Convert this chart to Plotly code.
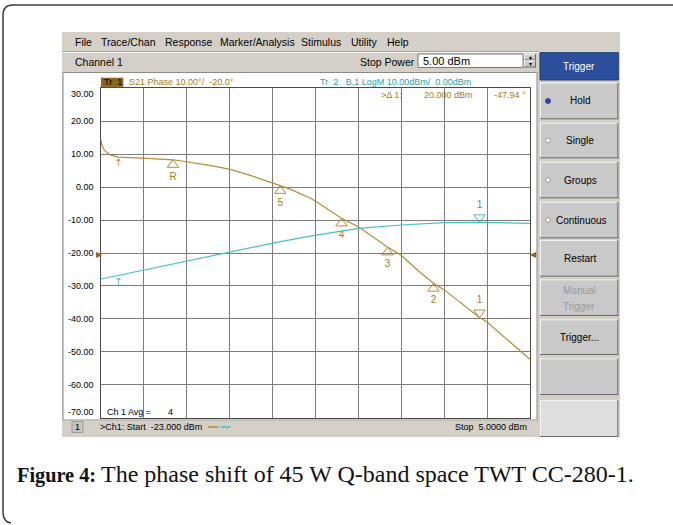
import plotly.graph_objects as go

W, H = 673, 525

# ---------------- data ----------------
power_start_dbm = -23.0
power_stop_dbm = 5.0
y_tick_values = [30, 20, 10, 0, -10, -20, -30, -40, -50, -60, -70]

# Tr 1 : S21 phase (deg) vs input power (dBm)
phase_power_dbm = [-23.0, -22.95, -22.85, -22.74, -22.41, -21.87, -20.26, -18.3, -17.4,
                   -16.0, -14.56, -13.2, -11.79, -11.32, -10.66, -9.36, -8.99, -7.29, -6.2,
                   -4.31, -3.42, -2.39, -1.31, -0.59, 1.7, 2.17, 5.0]
phase_deg = [14.3, 13.0, 11.8, 11.0, 9.8, 9.1, 8.8, 8.3, 7.7,
             6.7, 5.4, 3.5, 1.2, 0.4, -0.6, -3.3, -4.3, -9.5, -12.0,
             -18.2, -20.6, -25.0, -29.2, -31.2, -39.6, -40.9, -52.3]

# Tr 2 : B,1 LogM output power (dBm) vs input power (dBm)
b1_power_dbm = [-23.0, -20.24, -17.4, -15.23, -11.79, -9.36, -6.2, -3.42, -0.59, 1.74, 5.0]
b1_dbm = [-7.9, -5.2, -2.4, -0.3, 3.0, 5.1, 7.5, 8.5, 9.2, 9.3, 9.0]

# markers on the phase trace
marker_labels = ["R", "5", "4", "3", "2"]
marker_power_dbm = [-18.3, -11.3, -7.3, -4.3, -1.3]
marker_phase_deg = [8.3, 0.4, -9.5, -18.3, -29.3]
active_marker_label = "1"
active_marker_power_dbm = 1.7
active_marker_phase_deg = -39.6
b1_marker_dbm = 9.3

# stimulus arrows
stim_arrow_power = -21.9
stim_arrow_phase = 9.0
stim_arrow_b1 = -6.9

# ---------------- styling ----------------
BROWN = "#b98a35"
BROWN_T = "#a87a20"
CYAN = "#45c0c0"
CYAN_T = "#1ea5a5"
GRAY = "#d4d0c8"
BTN = "#c9c9c9"
SANS = "Liberation Sans, Arial, sans-serif"
SERIF = "Liberation Serif, Times New Roman, serif"

def px(x):
    return x / W

def py(y):
    return 1 - y / H

PLOT_L, PLOT_R, PLOT_T, PLOT_B = 101, 530, 88.3, 417.7
OFF = 5 * 100 / (PLOT_B - PLOT_T)  # 5 px in data units

shapes = []
ann = []

def rect(x0, y0, x1, y1, fill, line=None, lw=0, layer="below"):
    shapes.append(dict(type="rect", xref="paper", yref="paper",
                       x0=px(x0), x1=px(x1), y0=py(y1), y1=py(y0),
                       fillcolor=fill, line=dict(color=line or fill, width=lw),
                       layer=layer))

def hline(x0, x1, y, color, w=1, layer="below"):
    shapes.append(dict(type="line", xref="paper", yref="paper",
                       x0=px(x0), x1=px(x1), y0=py(y), y1=py(y),
                       line=dict(color=color, width=w), layer=layer))

def vline(x, y0, y1, color, w=1, layer="below"):
    shapes.append(dict(type="line", xref="paper", yref="paper",
                       x0=px(x), x1=px(x), y0=py(y0), y1=py(y1),
                       line=dict(color=color, width=w), layer=layer))

def text(x, y, s, size=10.5, color="#000", anchor="left", family=SANS, yanchor="middle"):
    ann.append(dict(xref="paper", yref="paper", x=px(x), y=py(y), text=s,
                    showarrow=False, xanchor=anchor, yanchor=yanchor,
                    font=dict(family=family, size=size, color=color)))

def button(x0, y0, x1, y1, fill=BTN):
    rect(x0, y0, x1, y1, fill)
    hline(x0, x1, y0 + 0.5, "#f4f4f4")
    vline(x0 + 0.5, y0, y1, "#f4f4f4")
    hline(x0, x1, y1 - 0.5, "#6a6a6a")
    vline(x1 - 0.5, y0, y1, "#6a6a6a")

# outer rounded frame (open at right/bottom)
path = (f"M {px(673)},{py(5)} L {px(13)},{py(5)} Q {px(3)},{py(5)} {px(3)},{py(15)} "
        f"L {px(3)},{py(512)} Q {px(3)},{py(522)} {px(11)},{py(523)}")
shapes.append(dict(type="path", xref="paper", yref="paper", path=path,
                   line=dict(color="#3a3a3a", width=1.5), layer="below"))

# screenshot background
rect(62, 32, 620, 437, GRAY)
hline(62, 620, 51.5, "#a8a6a0")
hline(62, 620, 52.5, "#f6f6f6")
# channel row / stop power box
rect(418, 54, 523, 67.5, "#ffffff", "#7a7a7a", 1)
button(524, 54, 536, 60.5)
button(524, 60.5, 536, 67.5)
text(530, 57.3, "▴", size=6, anchor="center")
text(530, 64.2, "▾", size=6, anchor="center")

# white display panel
rect(63, 72.5, 537, 420, "#ffffff", "#8a8a8a", 1)
# status bar
rect(63, 420.5, 537, 436, GRAY)
rect(72, 421.5, 83, 432.5, "#c4c4c4", "#9a9a9a", 1)
# right soft-key panel
rect(538, 50, 620, 437, GRAY)
rect(540, 52.7, 618.3, 80, "#2c4f9b", "#1c3a7a", 1)
btns = [(82.7, 119.3), (122.7, 158.3), (161.7, 198.3), (201.7, 238.3),
        (240, 276.7), (279.3, 316), (319.3, 355), (358.3, 395)]
for (a, b) in btns:
    button(540, a, 618.3, b)
button(540, 400, 618.3, 437, fill="#dedede")

# radio dots
for i, (a, b) in enumerate(btns[:4]):
    c = (a + b) / 2
    shapes.append(dict(type="circle", xref="paper", yref="paper",
                       x0=px(545.5), x1=px(550.5), y0=py(c + 2.5), y1=py(c - 2.5),
                       fillcolor="#2a4aa0" if i == 0 else "#f2f2f2",
                       line=dict(color="#2a4aa0" if i == 0 else "#9a9a9a", width=1),
                       layer="above"))

# Tr 1 label box
rect(101, 77.7, 123.3, 86.9, "#8c6414")

# ---------------- texts ----------------
menu = [("File", 73.3), ("Trace/Chan", 99.3), ("Response", 163.3), ("Marker/Analysis", 217.7),
        ("Stimulus", 299.3), ("Utility", 349.3), ("Help", 385)]
for s, x in menu:
    text(x, 42.3, s)
text(73.3, 61.7, "Channel 1")
text(357.7, 61.7, "Stop Power")
text(421, 61.2, "5.00 dBm", size=11)

text(102, 82.4, "Tr  1", size=9)
text(126.7, 82.4, "S21 Phase 10.00°/  -20.0°", size=9, color=BROWN_T)
text(317.7, 82.4, "Tr  2   B,1 LogM 10.00dBm/  0.00dBm", size=9, color=CYAN_T)
text(379.3, 95, "&gt;Δ 1:", size=9, color=BROWN_T)
text(421.7, 95, "20.000 dBm", size=9, color=BROWN_T)
text(528.3, 95, "-47.94 °", size=9, color=BROWN_T, anchor="right")

text(105, 411.5, "Ch 1 Avg =", size=9)
text(166, 411.5, "4", size=9)
text(77.5, 427, "1", size=9, anchor="center")
text(98, 427, "&gt;Ch1: Start  -23.000 dBm", size=9)
hline(208, 218.5, 427, BROWN, 1.5, layer="above")
hline(220.5, 230.5, 427, CYAN, 1.5, layer="above")
text(529, 427, "Stop  5.0000 dBm", size=9, anchor="right")

# soft keys
text(579, 66.5, "Trigger", size=10, color="#ffffff", anchor="center")
for s, (a, b) in zip(["Hold", "Single", "Groups", "Continuous", "Restart"], btns[:5]):
    text(580 if s != "Continuous" else 581, (a + b) / 2, s, size=10, anchor="center")
text(579, 290, "Manual", size=10, color="#9a9a9a", anchor="center")
text(579, 306, "Trigger", size=10, color="#9a9a9a", anchor="center")
text(579, 337.5, "Trigger...", size=10, anchor="center")

# caption
text(15, 475, "<b>Figure 4:</b>", size=20.3, color="#111111", family=SERIF)
text(99, 474, "The phase shift of 45 W Q-band space TWT CC-280-1.",
     size=24, color="#111111", family=SERIF)

# y tick labels (through the y axis scale)
for v in y_tick_values:
    shift = -6 if v == y_tick_values[0] else (6 if v == y_tick_values[-1] else 0)
    ann.append(dict(xref="paper", yref="y", x=px(95.5), y=v, yshift=shift,
                    text=f"{v:.2f}", showarrow=False, xanchor="right", yanchor="middle",
                    font=dict(family=SANS, size=9, color="#000")))

# reference position arrows
ann.append(dict(xref="paper", yref="y", x=px(99), y=-20, text="▶", showarrow=False,
                font=dict(size=8, color="#8c6414"), xanchor="center"))
ann.append(dict(xref="paper", yref="y", x=px(533), y=-20, text="◀", showarrow=False,
                font=dict(size=8, color="#8c6414"), xanchor="center"))

# stimulus arrows
ann.append(dict(xref="x", yref="y", x=stim_arrow_power, y=stim_arrow_phase, text="↑",
                showarrow=False, yanchor="top", yshift=2, font=dict(family="DejaVu Sans", size=10, color=BROWN)))
ann.append(dict(xref="x", yref="y2", x=stim_arrow_power, y=stim_arrow_b1, text="↑",
                showarrow=False, yanchor="top", yshift=2, font=dict(family="DejaVu Sans", size=10, color=CYAN)))

fig = go.Figure()
fig.add_trace(go.Scatter(x=b1_power_dbm, y=b1_dbm, mode="lines", yaxis="y2",
                         line=dict(color=CYAN, width=1.2), hoverinfo="skip"))
fig.add_trace(go.Scatter(x=phase_power_dbm, y=phase_deg, mode="lines",
                         line=dict(color=BROWN, width=1.2), hoverinfo="skip"))
fig.add_trace(go.Scatter(x=marker_power_dbm, y=[v - OFF for v in marker_phase_deg],
                         mode="markers+text", text=marker_labels, textposition="bottom center",
                         textfont=dict(family=SANS, size=10, color=BROWN_T),
                         marker=dict(symbol="triangle-up-open", size=10, color=BROWN,
                                     line=dict(width=1, color=BROWN)),
                         hoverinfo="skip"))
fig.add_trace(go.Scatter(x=[active_marker_power_dbm], y=[active_marker_phase_deg + OFF],
                         mode="markers+text", text=[active_marker_label], textposition="top center",
                         textfont=dict(family=SANS, size=10, color=BROWN_T),
                         marker=dict(symbol="triangle-down-open", size=10, color=BROWN,
                                     line=dict(width=1, color=BROWN)),
                         hoverinfo="skip"))
fig.add_trace(go.Scatter(x=[active_marker_power_dbm], y=[b1_marker_dbm + OFF], yaxis="y2",
                         mode="markers+text", text=[active_marker_label], textposition="top center",
                         textfont=dict(family=SANS, size=10, color=CYAN_T),
                         marker=dict(symbol="triangle-down-open", size=10, color=CYAN,
                                     line=dict(width=1, color=CYAN)),
                         hoverinfo="skip"))

dom_x = [px(PLOT_L), px(PLOT_R)]
dom_y = [py(PLOT_B), py(PLOT_T)]
fig.update_layout(
    width=W, height=H, margin=dict(l=0, r=0, t=0, b=0),
    paper_bgcolor="#ffffff", plot_bgcolor="rgba(0,0,0,0)", showlegend=False,
    xaxis=dict(domain=dom_x, range=[power_start_dbm, power_stop_dbm],
               tick0=power_start_dbm, dtick=(power_stop_dbm - power_start_dbm) / 10,
               showticklabels=False, ticks="", showgrid=True, gridcolor="#7c7c7c", gridwidth=1,
               zeroline=False, showline=True, linecolor="#4a4a4a", linewidth=1, mirror=True,
               fixedrange=True),
    yaxis=dict(domain=dom_y, range=[-70, 30], dtick=10, showticklabels=False, ticks="",
               showgrid=True, gridcolor="#7c7c7c", gridwidth=1, zeroline=False,
               showline=True, linecolor="#4a4a4a", linewidth=1, mirror=True, fixedrange=True),
    yaxis2=dict(domain=dom_y, range=[-50, 50], overlaying="y", visible=False, fixedrange=True),
    shapes=shapes, annotations=ann,
)
fig.write_html("out.html")
